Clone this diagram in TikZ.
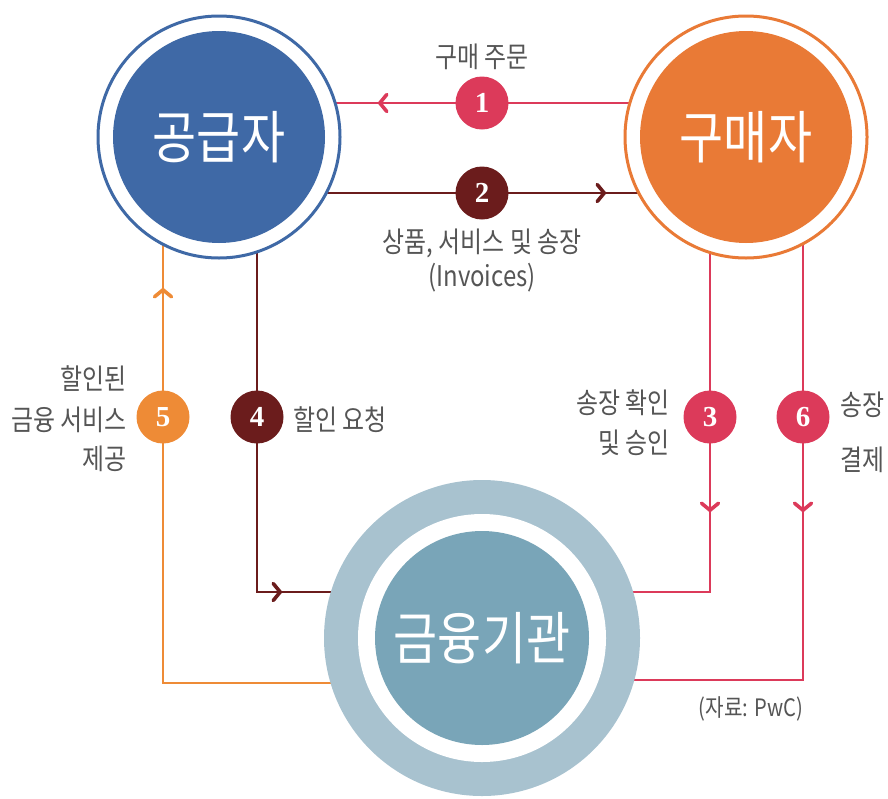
\documentclass[tikz,border=0pt]{standalone}
\usepackage{fontspec}
\setmainfont{Liberation Sans}
\newfontfamily\kr[FakeStretch=0.84]{Noto Sans CJK KR}
\newfontfamily\numf{Liberation Serif}
\usetikzlibrary{arrows.meta,decorations.markings,backgrounds}
\definecolor{supblue}{HTML}{3F69A6}
\definecolor{buyorange}{HTML}{E97A36}
\definecolor{finin}{HTML}{79A5B8}
\definecolor{finring}{HTML}{A8C2CF}
\definecolor{cred}{HTML}{DC3A5A}
\definecolor{cbrown}{HTML}{6B1C1C}
\definecolor{corange}{HTML}{EE8B36}
\definecolor{labelgray}{HTML}{555555}
\begin{document}
\begin{tikzpicture}[x=1pt,y=-1pt,
  lbl/.style={font=\kr\fontsize{28.5}{32}\selectfont, text=labelgray, inner sep=0pt},
  big/.style={font=\kr\fontsize{57}{60}\selectfont, text=white, circle, inner sep=0pt},
  badge/.style={circle, minimum size=53pt, inner sep=0pt, text=white, font=\numf\bfseries\fontsize{29}{29}\selectfont},
  conn/.style={line width=2.6pt},
  arrowat/.style={postaction={decorate,decoration={markings,mark=at position #1 with {\arrow{Straight Barb[length=7pt,width=17pt,line width=3.6pt,round]}}}}}
]
\useasboundingbox (0,0) rectangle (888,798);
% main circles
\node[circle, draw=supblue, line width=3pt, fill=white, minimum size=242pt, inner sep=0pt] (S) at (219,137) {};
\node[big, fill=supblue, minimum size=212pt] (Si) at (S.center) {공급자};
\node[circle, draw=buyorange, line width=3pt, fill=white, minimum size=242pt, inner sep=0pt] (B) at (746,137) {};
\node[big, fill=buyorange, minimum size=212pt] (Bi) at (B.center) {구매자};
\node[circle, fill=finring, minimum size=316pt, inner sep=0pt] (F) at (482,638) {};
\node[circle, fill=white, minimum size=248pt, inner sep=0pt] (Fw) at (F.center) {};
\node[big, fill=finin, minimum size=214pt] (Fi) at (F.center) {금융기관};
% badges
\node[badge, fill=cred] (b1) at (482,103) {1};
\node[badge, fill=cbrown] (b2) at (482,193) {2};
\node[badge, fill=cred] (b3) at (710,417) {3};
\node[badge, fill=cbrown] (b4) at (257,417) {4};
\node[badge, fill=corange] (b5) at (163,417) {5};
\node[badge, fill=cred] (b6) at (803,417) {6};
% corners
\coordinate (k3) at (710,592);
\coordinate (k4) at (257,592);
\coordinate (k5) at (163,683);
\coordinate (k6) at (803,680);
% connectors (under the circles and badges)
\begin{pgfonlayer}{background}
\draw[conn, cred, arrowat=368pt] (B.center |- b1.center) -- (S.center |- b1.center);
\draw[conn, cbrown, arrowat=387pt] (S.center |- b2.center) -- (B.center |- b2.center);
\draw[conn, cbrown, arrowat=480pt] (S.center -| b4.center) -- (k4) -- (F.center |- k4);
\draw[conn, corange, arrowat=714pt] (F.center |- k5) -- (k5) -- (S.center -| b5.center);
\draw[conn, cred, arrowat=375pt] (B.center -| b3.center) -- (k3) -- (F.center |- k3);
\draw[conn, cred, arrowat=375pt] (B.center -| b6.center) -- (k6) -- (F.center |- k6);
\end{pgfonlayer}
% labels
\node[lbl] (t1) at (482,57) {구매 주문};
\node[lbl] (t2) at (482,243) {상품, 서비스 및 송장};
\node[lbl] (t2b) at (482,278) {(Invoices)};
\node[lbl, anchor=east] (t5a) at (127,379) {할인된};
\node[lbl, anchor=east] (t5b) at (127,420) {금융 서비스};
\node[lbl, anchor=east] (t5c) at (127,459) {제공};
\node[lbl, anchor=west] (t4) at (293,420) {할인 요청};
\node[lbl, anchor=east] (t3a) at (670,403) {송장 확인};
\node[lbl, anchor=east] (t3b) at (670,443) {및 승인};
\node[lbl, anchor=west] (t6a) at (840,405) {송장};
\node[lbl, anchor=west] (t6b) at (840,460) {결제};
\node[lbl, font=\kr\fontsize{24}{27}\selectfont] (src) at (751,709) {(자료: PwC)};
\end{tikzpicture}
\end{document}
